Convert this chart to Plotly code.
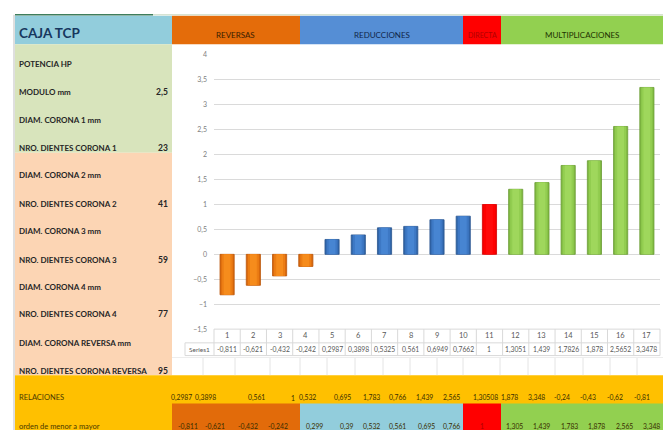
import plotly.graph_objects as go

# ---------------- data ----------------
categories = list(range(1, 18))
values = [-0.811, -0.621, -0.432, -0.242, 0.2987, 0.3898, 0.5325, 0.561, 0.6949,
          0.7662, 1, 1.3051, 1.439, 1.7826, 1.878, 2.5652, 3.3478]
groups = ["REVERSAS"] * 4 + ["REDUCCIONES"] * 6 + ["DIRECTA"] + ["MULTIPLICACIONES"] * 6
series_name = "Series1"

left_labels = ["POTENCIA HP", "MODULO mm", "DIAM. CORONA 1 mm", "NRO. DIENTES CORONA 1",
               "DIAM. CORONA 2 mm", "NRO. DIENTES CORONA 2", "DIAM. CORONA 3 mm",
               "NRO. DIENTES CORONA 3", "DIAM. CORONA 4 mm", "NRO. DIENTES CORONA 4",
               "DIAM. CORONA REVERSA mm", "NRO. DIENTES CORONA REVERSA"]
left_values = ["", "2,5", "", "23", "", "41", "", "59", "", "77", "", "95"]

relaciones = ["0,2987", "0,3898", "0,561", "1", "0,532", "0,695", "1,783", "0,766",
              "1,439", "2,565", "1,30508", "1,878", "3,348", "-0,24", "-0,43", "-0,62", "-0,81"]
orden = ["-0,811", "-0,621", "-0,432", "-0,242", "0,299", "0,39", "0,532", "0,561",
         "0,695", "0,766", "1", "1,305", "1,439", "1,783", "1,878", "2,565", "3,348"]

header_groups = ["REVERSAS", "REDUCCIONES", "DIRECTA", "MULTIPLICACIONES"]

# ---------------- styles / layout constants ----------------
W, H = 670, 434
FONT = "Lato"
edge_col = {"REVERSAS": "#D9680D", "REDUCCIONES": "#3166AA", "DIRECTA": "#F20000",
            "MULTIPLICACIONES": "#80BA42"}
mid_col = {"REVERSAS": "#EC7D14", "REDUCCIONES": "#3D78C4", "DIRECTA": "#FF0000",
           "MULTIPLICACIONES": "#92CD50"}
core_col = {"REVERSAS": "#F68C1C", "REDUCCIONES": "#4785D2", "DIRECTA": "#FF0A0A",
            "MULTIPLICACIONES": "#9FD75C"}
line_col = {"REVERSAS": "#B9560A", "REDUCCIONES": "#28548E", "DIRECTA": "#D00000",
            "MULTIPLICACIONES": "#6A9B34"}
head_col = {"REVERSAS": "#E46C0A", "REDUCCIONES": "#558ED5", "DIRECTA": "#FF0000",
            "MULTIPLICACIONES": "#92D050"}
head_txt = {"REVERSAS": "#3B2000", "REDUCCIONES": "#10264A", "DIRECTA": "#B00000",
            "MULTIPLICACIONES": "#1E3300"}
head_size = {"REVERSAS": 8, "REDUCCIONES": 8, "DIRECTA": 7, "MULTIPLICACIONES": 8}
head_x = {"REVERSAS": (172, 300), "REDUCCIONES": (300, 463), "DIRECTA": (463, 501),
          "MULTIPLICACIONES": (501, 663)}
orden_fill = {"REVERSAS": "#E26B0A", "REDUCCIONES": "#92CDDC", "DIRECTA": "#FF0000",
              "MULTIPLICACIONES": "#92D050"}
left_rows_y = [60, 89, 117, 146, 174, 203, 231, 260, 288, 316, 345, 374]
rel_right = [194, 218, 267, 297, 318, 353, 382, 408, 435, 462, 500, 520, 547, 572, 598, 625, 652]
ord_right = [200, 227, 260, 290, 325, 355, 382, 408, 437, 462, 486, 525, 552, 580, 607, 635, 662]
sheet_cols = [172, 203, 235, 270, 300, 327, 355, 383, 410, 437, 463, 500, 528, 555, 583, 610, 637, 663]

PX0, PX1 = 214, 660      # plot area x (px)
PY_TOP, PY_BOT = 51, 331  # plot area y (px)


def X(px):
    return px / W


def Y(py):
    return 1 - py / H


shapes = []
annotations = []


def rect(x0, y0, x1, y1, fill, layer="below"):
    shapes.append(dict(type="rect", xref="paper", yref="paper", x0=X(x0), x1=X(x1),
                       y0=Y(y1), y1=Y(y0), fillcolor=fill,
                       line=dict(color=fill, width=0), layer=layer))


def hline(x0, x1, y, color, w=1):
    shapes.append(dict(type="line", xref="paper", yref="paper", x0=X(x0), x1=X(x1),
                       y0=Y(y), y1=Y(y), line=dict(color=color, width=w), layer="below"))


def vline(x, y0, y1, color, w=1):
    shapes.append(dict(type="line", xref="paper", yref="paper", x0=X(x), x1=X(x),
                       y0=Y(y0), y1=Y(y1), line=dict(color=color, width=w), layer="below"))


def text(px, py, s, size, color="#222222", anchor="left", bold=False):
    if bold:
        s = "<b>" + s + "</b>"
    annotations.append(dict(xref="paper", yref="paper", x=X(px), y=Y(py), text=s,
                            showarrow=False, xanchor=anchor, yanchor="middle",
                            font=dict(family=FONT, size=size, color=color)))


# ---- background blocks ----
rect(172, 40, 663, 378, "#FFFFFF")
rect(15, 11, 172, 40, "#92CDDC")
for g in header_groups:
    a, b = head_x[g]
    rect(a, 11, b, 40, head_col[g])
rect(15, 40, 172, 151, "#D8E4BC")
rect(15, 151, 172, 378, "#FCD5B4")
rect(15, 378, 663, 434, "#FFC000")
for g in header_groups:
    a, b = head_x[g]
    rect(a, 407, b, 434, orden_fill[g])
hline(15, 153, 10, "#3E7D5C", 1.5)
hline(153, 663, 10, "#C8D8C0", 1)
vline(14, 10, 434, "#BFBFBF", 1)

# spreadsheet grid in blank row under the chart table
for c in sheet_cols[1:-1]:
    vline(c, 360, 378, "#E4E4E4", 1)
hline(172, 663, 360, "#EDEDED", 1)

# ---- header texts ----
text(17, 29, "CAJA TCP", 13.5, "#17375E", bold=True)
for g in header_groups:
    a, b = head_x[g]
    text((a + b) / 2, 31, g, head_size[g], head_txt[g], anchor="center")

# ---- left panel ----
for lab, val, yy in zip(left_labels, left_values, left_rows_y):
    text(17, yy, lab, 8, "#262626", bold=True)
    if val:
        text(170, yy, val, 8.5, "#262626", anchor="right", bold=True)

# ---- bottom rows ----
text(17, 401, "RELACIONES", 7.5, "#4A3A00")
text(17, 430, "orden de menor a mayor", 7.5, "#4A3A00")
for s, r in zip(relaciones, rel_right):
    text(r, 401, s, 6.8, "#3A2E00", anchor="right")
for s, r, g in zip(orden, ord_right, groups):
    if g == "DIRECTA":
        text((head_x[g][0] + head_x[g][1]) / 2, 430, s, 7, "#B00000", anchor="center")
    else:
        text(r, 430, s, 6.8, "#3A2E00", anchor="right")

# ---- chart data table ----
step = (PX1 - PX0) / len(categories)
tbl_grey = "#D9D9D9"
hline(PX0, PX1, 331, tbl_grey)
hline(185, PX1, 345, tbl_grey)
hline(185, PX1, 358, tbl_grey)
vline(185, 345, 358, tbl_grey)
for k in range(len(categories) + 1):
    vline(PX0 + k * step, 331, 358, tbl_grey)
text(199.5, 351.5, series_name, 6.5, "#595959", anchor="center")
for c, v in zip(categories, values):
    annotations.append(dict(xref="x", yref="paper", x=c, y=Y(338), text=str(c),
                            showarrow=False, xanchor="center", yanchor="middle",
                            font=dict(family=FONT, size=7.5, color="#595959")))
    lab = ("%g" % v).replace(".", ",")
    annotations.append(dict(xref="x", yref="paper", x=c, y=Y(351.5), text=lab,
                            showarrow=False, xanchor="center", yanchor="middle",
                            font=dict(family=FONT, size=6.8, color="#595959")))

# ---- bars (shaded body + lighter inner layers for the 3D look) ----
fig = go.Figure()
fig.add_trace(go.Bar(
    x=categories, y=values, width=0.54,
    marker=dict(color=[edge_col[g] for g in groups],
                line=dict(color=[line_col[g] for g in groups], width=0.8)),
    name=series_name, showlegend=False, hoverinfo="x+y"))
fig.add_trace(go.Bar(
    x=categories, y=values, width=0.42,
    marker=dict(color=[mid_col[g] for g in groups], line=dict(width=0)),
    name=series_name, showlegend=False, hoverinfo="skip"))
fig.add_trace(go.Bar(
    x=categories, y=values, width=0.26,
    marker=dict(color=[core_col[g] for g in groups], line=dict(width=0)),
    name=series_name, showlegend=False, hoverinfo="skip"))

fig.update_layout(
    width=W, height=H, margin=dict(l=0, r=0, t=0, b=0),
    paper_bgcolor="#FFFFFF", plot_bgcolor="rgba(0,0,0,0)",
    separators=",.", barmode="overlay",
    shapes=shapes, annotations=annotations, showlegend=False,
    xaxis=dict(domain=[X(PX0), X(PX1)], range=[0.5, 17.5], showticklabels=False,
               showgrid=False, zeroline=False, ticks="", fixedrange=True),
    yaxis=dict(domain=[Y(PY_BOT), Y(PY_TOP)], range=[-1.5, 4], dtick=0.5,
               tick0=0, showgrid=True, gridcolor="#DADADA", gridwidth=1,
               zeroline=False, tickfont=dict(family=FONT, size=7, color="#808080"),
               ticks="", ticklabelstandoff=6, fixedrange=True),
)

fig.write_html("out.html")
